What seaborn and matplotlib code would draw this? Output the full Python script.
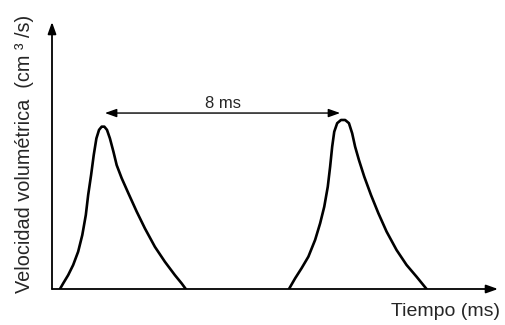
import matplotlib
matplotlib.use("Agg")
import matplotlib.pyplot as plt
import seaborn as sns
import pandas as pd

# Two consecutive flow pulses: time (ms) and volumetric flow (relative units)
pulse1_t = [0.27, 0.38, 0.55, 0.72, 0.89, 1.03, 1.15, 1.23, 1.33, 1.42, 1.51,
            1.60, 1.69, 1.78, 1.87, 1.97, 2.09, 2.20, 2.37, 2.60, 2.88, 3.16,
            3.50, 3.84, 4.18, 4.41, 4.55]
pulse1_q = [0.0, 2.1, 5.2, 9.0, 14.0, 20.2, 27.7, 35.2, 42.7, 50.2, 56.4,
            59.6, 60.8, 60.8, 59.6, 56.4, 51.4, 46.4, 41.5, 35.8, 29.0, 22.7,
            15.8, 10.2, 5.2, 2.1, 0.0]

pulse2_t = [8.06, 8.27, 8.49, 8.72, 8.95, 9.12, 9.26, 9.38, 9.46, 9.53, 9.60,
            9.70, 9.83, 9.97, 10.10, 10.21, 10.31, 10.44, 10.62, 10.85, 11.10,
            11.38, 11.72, 12.06, 12.40, 12.74]
pulse2_q = [0.0, 4.0, 7.8, 12.1, 18.4, 24.6, 30.8, 38.3, 45.8, 53.3, 58.9,
            62.1, 63.3, 63.3, 62.1, 58.3, 53.3, 48.3, 42.1, 35.2, 28.4,
            21.5, 14.6, 9.0, 4.6, 0.0]

# Pulse period marker
period_ms = 8
period_start = 1.80
period_level = 65.9
period_label = "8 ms"

x_max = 15.17
y_max = 100

xlabel = "Tiempo (ms)"
ylabel = "Velocidad volumétrica  (cm ³ /s)"

sns.set_style("white")
plt.rcParams["font.family"] = ["Liberation Sans", "DejaVu Sans"]

fig = plt.figure(figsize=(5.05, 3.25), dpi=100)
ax = fig.add_axes([52 / 505, 1 - 289 / 325, (498 - 52) / 505, (289 - 22) / 325])
ax.set_xlim(0, x_max)
ax.set_ylim(0, y_max)
for s in ax.spines.values():
    s.set_visible(False)
ax.set_xticks([])
ax.set_yticks([])
ax.patch.set_alpha(0)

df = pd.DataFrame({
    "t": pulse1_t + pulse2_t,
    "q": pulse1_q + pulse2_q,
    "pulse": ["1"] * len(pulse1_t) + ["2"] * len(pulse2_t),
})
sns.lineplot(data=df, x="t", y="q", units="pulse", estimator=None, sort=False,
             color="black", linewidth=1.9, ax=ax, legend=False)
for ln in ax.lines:
    ln.set_solid_joinstyle("round")
    ln.set_solid_capstyle("round")
ax.set_xlabel("")
ax.set_ylabel("")

# Axes drawn as arrows
axis_arrow = dict(arrowstyle="-|>,head_length=0.7,head_width=0.25", color="black",
                  lw=1.3, shrinkA=0, shrinkB=0, mutation_scale=10)
ax.annotate("", xy=(1, 0), xytext=(0, 0), xycoords="axes fraction",
            textcoords="axes fraction", arrowprops=axis_arrow, annotation_clip=False)
ax.annotate("", xy=(0, 1), xytext=(0, 0), xycoords="axes fraction",
            textcoords="axes fraction", arrowprops=axis_arrow, annotation_clip=False)

# Period arrow between the two peaks
ax.annotate("", xy=(period_start + period_ms, period_level), xytext=(period_start, period_level),
            arrowprops=dict(arrowstyle="<|-|>,head_length=0.7,head_width=0.25", color="black",
                            lw=1.0, shrinkA=0, shrinkB=0, mutation_scale=10))
ax.text(period_start + period_ms / 2, period_level + 0.8, period_label,
        ha="center", va="bottom", fontsize=12)

fig.text(25 / 505, 1 - 154 / 325, ylabel, rotation=90, ha="center", va="center", fontsize=14.3)
fig.text(500 / 505, 1 - 312 / 325, xlabel, ha="right", va="center", fontsize=14)

fig.savefig("out.png", dpi=100)
